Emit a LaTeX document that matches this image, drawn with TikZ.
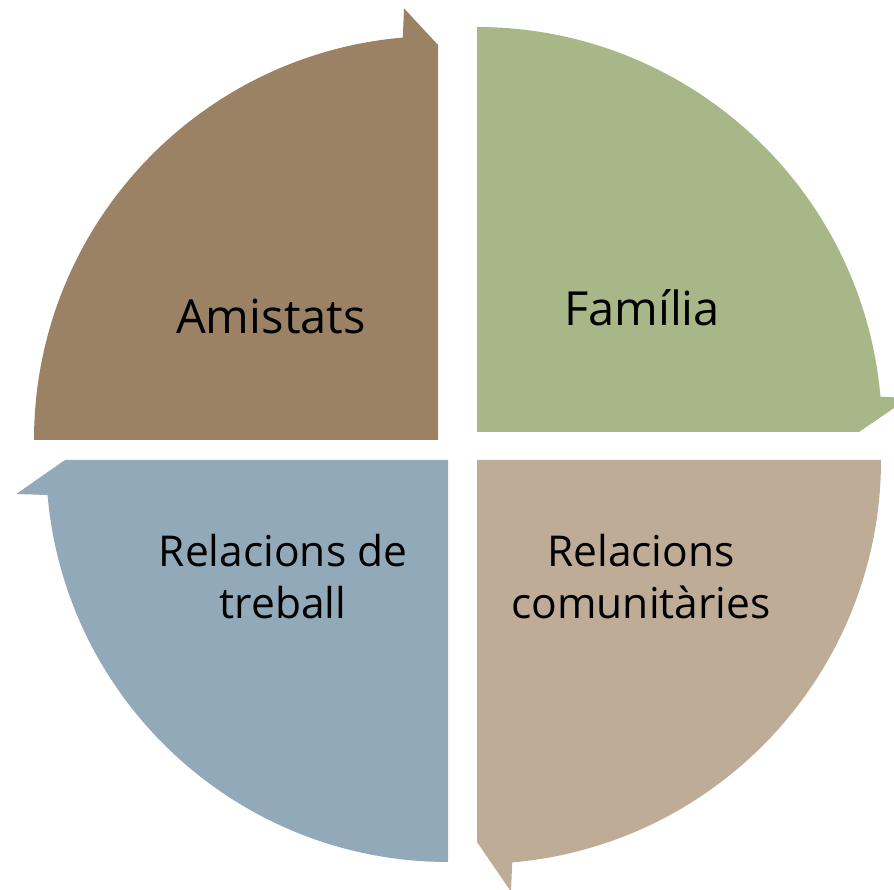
\documentclass[tikz,border=0pt]{standalone}
\usepackage{fontspec}
\setmainfont{Open Sans}
\usetikzlibrary{calc}
\definecolor{cBrown}{HTML}{9B8264}
\definecolor{cGreen}{HTML}{A7B788}
\definecolor{cBlue}{HTML}{92A9B9}
\definecolor{cBeige}{HTML}{BEAC96}
\tikzset{
  lbl/.style={text=black, align=center, inner sep=0pt, anchor=base},
  big/.style={lbl, font=\fontsize{47}{52}\selectfont},
  two/.style={lbl, font=\fontsize{42.5}{52}\selectfont},
}
\begin{document}
\begin{tikzpicture}[x=1pt,y=1pt]
\useasboundingbox (0,0) rectangle (894,889);
% Green (Familia) center (477,457)
\coordinate (cg) at (477,457);
\fill[cGreen] (cg) -- ($(cg)+(90:405)$) arc[start angle=90, end angle=5, radius=405]
  -- ($(cg)+(4.5:433)$) -- ($(cg)+(0:382)$) -- cycle;
% Beige center (477,429)
\coordinate (cb) at (477,429);
\fill[cBeige] (cb) -- ($(cb)+(0:404)$) arc[start angle=0, end angle=-85, radius=404]
  -- ($(cb)+(-85.5:433)$) -- ($(cb)+(-90:382)$) -- cycle;
% Blue center (448,429)
\coordinate (cl) at (448,429);
\fill[cBlue] (cl) -- ($(cl)+(270:402)$) arc[start angle=270, end angle=185, radius=402]
  -- ($(cl)+(184.5:433)$) -- ($(cl)+(180:383)$) -- cycle;
% Brown center (438,449)
\coordinate (cr) at (438,449);
\fill[cBrown] (cr) -- ($(cr)+(180:404)$) arc[start angle=180, end angle=95, radius=404]
  -- ($(cr)+(94.5:433)$) -- ($(cr)+(90:395)$) -- cycle;
% Labels
\node[big] (amistats) at (271,555) {Amistats};
\node[big] (familia) at (642,563) {Família};
\node[two] (treball) at (283,270) {Relacions de\\treball};
\node[two] (comunit) at (641,270) {Relacions\\comunitàries};
\end{tikzpicture}
\end{document}
